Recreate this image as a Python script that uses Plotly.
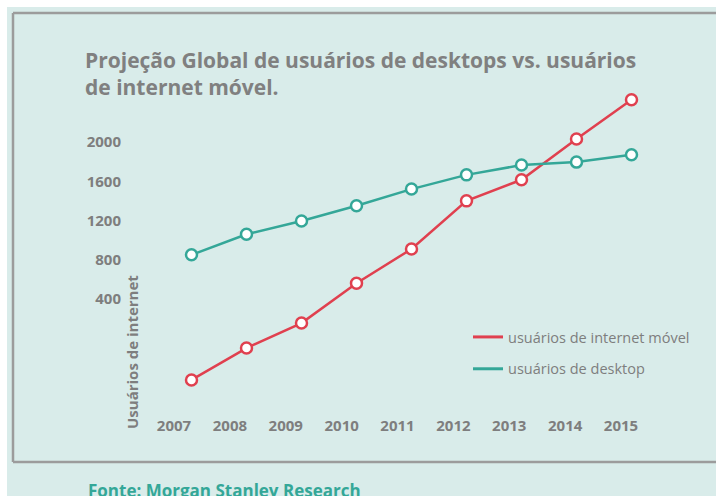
import plotly.graph_objects as go

# ---- data ----
years = [2007, 2008, 2009, 2010, 2011, 2012, 2013, 2014, 2015]
movel = [-425, -100, 155, 560, 910, 1400, 1615, 2030, 2430]
desktop = [850, 1060, 1195, 1350, 1520, 1665, 1765, 1795, 1870]
y_ticks = [400, 800, 1200, 1600, 2000]
x_ticks = years

title_text = "Projeção Global de usuários de desktops vs. usuários<br>de internet móvel."
name_movel = "usuários de internet móvel"
name_desktop = "usuários de desktop"
y_title = "Usuários de internet"
source_text = "Fonte: Morgan Stanley Research"

# ---- styles ----
RED = "#e0404f"
GREEN = "#34a798"
BG = "#d9ecea"
GRAY_TXT = "#7e7e7e"
BORDER = "#9c9c9c"
FONT = "Open Sans"

W, H = 716, 496
L, R, T, B = 140, 36, 90, 84
PW, PH = W - L - R, H - T - B


def px_x(p):
    """screen x pixel -> paper coordinate"""
    return (p - L) / PW


def px_y(p):
    """screen y pixel -> paper coordinate"""
    return (H - B - p) / PH


fig = go.Figure()

marker_common = dict(size=11, color="white")
fig.add_trace(go.Scatter(
    x=years, y=movel, xaxis="x2", mode="lines+markers", showlegend=False,
    line=dict(color=RED, width=2.5),
    marker=dict(**marker_common, line=dict(color=RED, width=2.5)),
))
fig.add_trace(go.Scatter(
    x=years, y=desktop, xaxis="x2", mode="lines+markers", showlegend=False,
    line=dict(color=GREEN, width=2.5),
    marker=dict(**marker_common, line=dict(color=GREEN, width=2.5)),
))
# legend entries (line only)
fig.add_trace(go.Scatter(x=[None], y=[None], mode="lines", name=name_movel,
                         legendgroup="a", line=dict(color=RED, width=3)))
fig.add_trace(go.Scatter(x=[None], y=[None], mode="lines", name=name_desktop,
                         legendgroup="b", line=dict(color=GREEN, width=3)))

border_line = dict(color=BORDER, width=2.5)
white_strip = dict(type="rect", xref="paper", yref="paper", fillcolor="white",
                   line=dict(width=0), layer="below")
fig.update_layout(
    width=W, height=H,
    margin=dict(l=L, r=R, t=T, b=B),
    paper_bgcolor=BG,
    plot_bgcolor="rgba(0,0,0,0)",
    font=dict(family=FONT, color=GRAY_TXT),
    title=dict(
        text=title_text, x=85 / W, xanchor="left", xref="container",
        y=1 - 68 / H, yanchor="top", yref="container",
        font=dict(family=FONT, size=21, color="#808080", weight="bold"),
    ),
    xaxis=dict(
        range=[2006.3915, 2016.0559], tickvals=x_ticks, ticktext=[str(v) for v in x_ticks],
        showgrid=False, zeroline=False, showline=False, ticks="", ticklabelstandoff=3,
        tickfont=dict(family=FONT, size=15, color=GRAY_TXT, weight="bold"),
    ),
    xaxis2=dict(
        range=[2006.0636, 2015.8818], overlaying="x", visible=False,
    ),
    yaxis=dict(
        range=[-751.6, 2529.9], tickvals=y_ticks, showgrid=False, zeroline=False,
        showline=False, ticks="", ticklabelstandoff=18,
        tickfont=dict(family=FONT, size=15, color=GRAY_TXT, weight="bold"),
    ),
    legend=dict(
        x=px_x(468), xanchor="left", y=px_y(321), yanchor="top",
        bgcolor="rgba(0,0,0,0)", traceorder="grouped", tracegroupgap=10,
        font=dict(family=FONT, size=14.5, color=GRAY_TXT),
    ),
    shapes=[
        dict(white_strip, x0=px_x(-5), x1=px_x(W + 5), y0=px_y(-5), y1=px_y(7)),
        dict(white_strip, x0=px_x(-5), x1=px_x(7), y0=px_y(-5), y1=px_y(H + 5)),
        dict(type="line", xref="paper", yref="paper", x0=px_x(13), x1=px_x(W + 5),
             y0=px_y(13), y1=px_y(13), line=border_line, layer="below"),
        dict(type="line", xref="paper", yref="paper", x0=px_x(13), x1=px_x(W + 5),
             y0=px_y(462), y1=px_y(462), line=border_line, layer="below"),
        dict(type="line", xref="paper", yref="paper", x0=px_x(13), x1=px_x(13),
             y0=px_y(13), y1=px_y(462), line=border_line, layer="below"),
    ],
    annotations=[
        dict(text=y_title, textangle=-90, xref="paper", yref="paper",
             x=px_x(132), y=px_y(352), xanchor="center", yanchor="middle", showarrow=False,
             font=dict(family=FONT, size=15, color=GRAY_TXT, weight="bold")),
        dict(text=source_text, xref="paper", yref="paper",
             x=px_x(86), y=px_y(477), xanchor="left", yanchor="top", showarrow=False,
             font=dict(family=FONT, size=17, color=GREEN, weight="bold")),
    ],
)

fig.write_html(
    "out.html",
    config={"displayModeBar": False},
    post_script="document.documentElement.style.overflow='hidden';"
                "document.body.style.overflow='hidden';"
                "document.body.style.margin='0';",
)
